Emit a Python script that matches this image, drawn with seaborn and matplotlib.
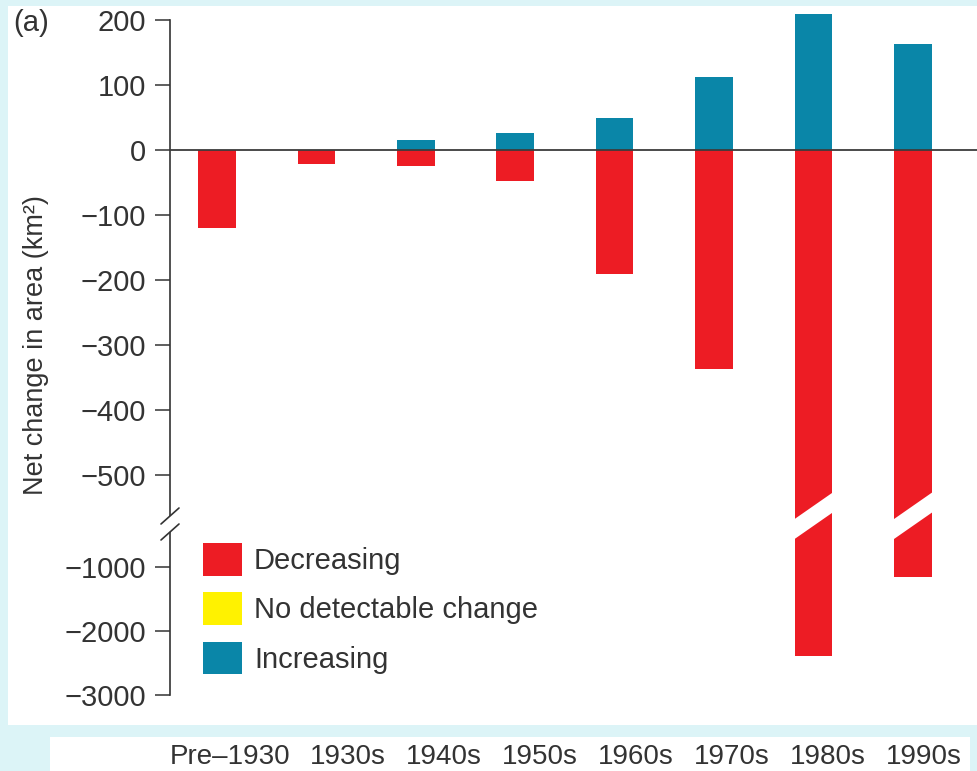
import numpy as np
import pandas as pd
import matplotlib
matplotlib.use("Agg")
import matplotlib.pyplot as plt
from matplotlib.patches import Patch, Rectangle
import seaborn as sns

sns.set_style("white")
plt.rcParams["font.family"] = ["Liberation Sans", "DejaVu Sans"]

decades = ["Pre\u20131930", "1930s", "1940s", "1950s", "1960s", "1970s", "1980s", "1990s"]
decreasing = [-121, -22, -26, -49, -191, -338, -2400, -1160]
increasing = [0, 0, 14, 25, 48, 112, 209, 163]
yticks = [200, 100, 0, -100, -200, -300, -400, -500, -1000, -2000, -3000]
trend_labels = ["Decreasing", "No detectable change", "Increasing"]
trend_colors = ["#ed1c24", "#fff200", "#0a86a8"]

BG = "#dcf4f7"
INK = "#333333"
W, H = 978, 771

# broken axis: linear above -500, compressed below -1000
xp = [-1e5, -1000, -500, 1e5]
fp = [-641.8 - 99000 * 0.0985, -641.8, -500, 1e5]

def forward(v):
  return np.interp(v, xp, fp)

def inverse(u):
  return np.interp(u, fp, xp)

df = pd.DataFrame({
  "decade": decades * 2,
  "change": decreasing + increasing,
  "trend": ["Decreasing"] * len(decades) + ["Increasing"] * len(decades),
})

fig = plt.figure(figsize=(W / 100, H / 100), dpi=100)
fig.patch.set_facecolor(BG)
# white panels behind everything
fig.patches.append(Rectangle((8 / W, 1 - 725 / H), 970 / W, 719 / H,
                             transform=fig.transFigure, facecolor="white", edgecolor="none", zorder=-5))
fig.patches.append(Rectangle((50 / W, 0), 920 / W, 34 / H,
                             transform=fig.transFigure, facecolor="white", edgecolor="none", zorder=-5))

ax = fig.add_axes([170 / W, (H - 700) / H, 808 / W, 692 / H])
ax.set_facecolor("none")

sns.barplot(data=df, x="decade", y="change", hue="trend", dodge=False,
            palette={"Decreasing": trend_colors[0], "Increasing": trend_colors[2]},
            width=0.377, linewidth=0, saturation=1, legend=False, ax=ax)

ax.set_yscale("function", functions=(forward, inverse))
ax.set_ylim(-3082, 217.7)
ax.set_xlim(-0.473, 7.656)

ax.axhline(0, color="#3c3c3c", lw=1.3, zorder=3)

for s in ["top", "right", "bottom"]:
  ax.spines[s].set_visible(False)
ax.spines["left"].set_bounds(-3000, 200)
ax.spines["left"].set_color(INK)
ax.spines["left"].set_linewidth(1.2)

ax.set_yticks(yticks)
ax.set_yticklabels([str(v).replace("-", "\u2212") for v in yticks])
ax.tick_params(axis="y", left=True, length=11, width=1.1, color=INK, pad=6,
               labelsize=21, labelcolor=INK)
ax.set_xticks([])
ax.set_xlabel("")
ax.set_ylabel("Net change in area (km\u00b2)", fontsize=19.5, color=INK)
ax.yaxis.set_label_coords(-0.15, 0.513)

# white break band through the two long bars
for i in [6, 7]:
  ax.plot([i - 0.3, i + 0.3], [0.236, 0.296], transform=ax.get_xaxis_transform(),
          color="white", lw=11.8, solid_capstyle="butt", zorder=4)

# break marks on the y axis
def fx(px):
  return px / W

def fy(py):
  return 1 - py / H

ax.plot([fx(170), fx(170)], [fy(518), fy(530)], transform=fig.transFigure,
        color="white", lw=3, clip_on=False, zorder=5)
for y0 in [524, 540]:
  ax.plot([fx(161), fx(179)], [fy(y0), fy(y0 - 16)], transform=fig.transFigure,
          color=INK, lw=1.2, clip_on=False, zorder=6)

handles = [Patch(facecolor=c, edgecolor="none") for c in trend_colors]
leg = ax.legend(handles, trend_labels, loc="upper left",
                bbox_to_anchor=(203 / W, 1 - 543 / H), bbox_transform=fig.transFigure,
                frameon=False, fontsize=21, handlelength=1.34, handleheight=1.34,
                labelspacing=0.58, handletextpad=0.41, borderpad=0, borderaxespad=0)
for t in leg.get_texts():
  t.set_color(INK)

fig.text(13 / W, fy(23), "(a)", fontsize=21, color=INK, va="center", ha="left")

# category labels in the strip under the chart (right-aligned, own spacing)
strip = fig.add_axes([50 / W, 0, 920 / W, 34 / H])
strip.set_facecolor("none")
strip.set_xlim((50 - 290.2) / 95.97, (970 - 290.2) / 95.97)
strip.set_ylim(0, 1)
strip.set_xticks([])
strip.set_yticks([])
for s in strip.spines.values():
  s.set_visible(False)
for i, lab in enumerate(decades):
  strip.text(i, 0.21, lab, ha="right", va="baseline", fontsize=20, color=INK)

fig.savefig("out.png", dpi=100, facecolor=BG)
